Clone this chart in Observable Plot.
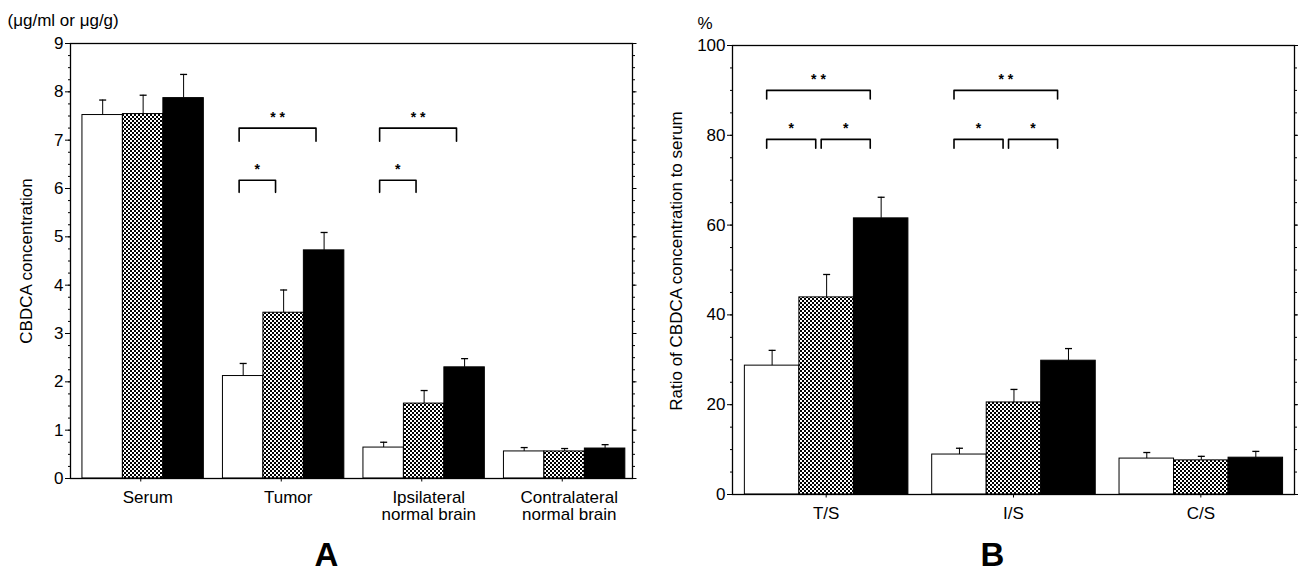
<!DOCTYPE html>
<html><head><meta charset="utf-8">
<script src="https://cdn.jsdelivr.net/npm/d3@7"></script>
<script src="https://cdn.jsdelivr.net/npm/@observablehq/plot@0.6"></script>
<style>
html,body{margin:0;padding:0;background:#fff;}
#wrap{position:relative;width:1298px;height:574px;overflow:hidden;background:#fff;}
#a{position:absolute;left:0;top:0;}
#b{position:absolute;left:650px;top:0;}
</style></head><body>
<svg width="0" height="0" style="position:absolute">
<defs><pattern id="checker" width="4" height="4" patternUnits="userSpaceOnUse">
<rect width="4" height="4" fill="#fff"/><rect width="2" height="2" fill="#000"/><rect x="2" y="2" width="2" height="2" fill="#000"/></pattern></defs></svg>
<div id="wrap"><div id="a"></div><div id="b"></div></div>
<script>
// ---------- data ----------
const series = ["Series 1", "Series 2", "Series 3"];

// Panel A: CBDCA concentration (µg/ml or µg/g)
const groupsA = ["Serum", "Tumor", "Ipsilateral\nnormal brain", "Contralateral\nnormal brain"];
const meanA1 = [7.52, 2.12, 0.64, 0.56];
const meanA2 = [7.54, 3.43, 1.55, 0.56];
const meanA3 = [7.87, 4.72, 2.30, 0.62];
const errA1  = [7.83, 2.38, 0.75, 0.64];
const errA2  = [7.93, 3.90, 1.82, 0.62];
const errA3  = [8.36, 5.09, 2.48, 0.70];
const ticksA = [0, 1, 2, 3, 4, 5, 6, 7, 8, 9];
const sigA = [
  {group: "Tumor", from: 0, to: 2, mark: "**"},
  {group: "Tumor", from: 0, to: 1, mark: "*"},
  {group: "Ipsilateral\nnormal brain", from: 0, to: 2, mark: "**"},
  {group: "Ipsilateral\nnormal brain", from: 0, to: 1, mark: "*"}
];

// Panel B: ratio to serum (%)
const groupsB = ["T/S", "I/S", "C/S"];
const meanB1 = [28.7, 8.9, 8.0];
const meanB2 = [43.9, 20.5, 7.6];
const meanB3 = [61.5, 29.8, 8.2];
const errB1  = [32.1, 10.3, 9.35];
const errB2  = [49.0, 23.4, 8.5];
const errB3  = [66.2, 32.5, 9.6];
const ticksB = [0, 20, 40, 60, 80, 100];
const sigB = [
  {group: "T/S", from: 0, to: 2, mark: "**"},
  {group: "T/S", from: 0, to: 1, mark: "*"},
  {group: "T/S", from: 1, to: 2, mark: "*"},
  {group: "I/S", from: 0, to: 2, mark: "**"},
  {group: "I/S", from: 0, to: 1, mark: "*"},
  {group: "I/S", from: 1, to: 2, mark: "*"}
];

// ---------- helpers ----------
const FONT = "'Liberation Sans', Arial, Helvetica, sans-serif";
const sym = (fn) => ({draw(ctx, size) { const r = Math.sqrt(size / Math.PI); fn(ctx, r); }});
const hLine = sym((c, r) => { c.moveTo(-r, 0); c.lineTo(r, 0); });
const leftTick = sym((c, r) => { c.moveTo(0, 0); c.lineTo(-r, 0); });
const rightTick = sym((c, r) => { c.moveTo(0, 0); c.lineTo(r, 0); });
const downTick = sym((c, r) => { c.moveTo(0, 0); c.lineTo(0, r); });

function buildRows(groups, means, errs, pad, bw) {
  const rows = [];
  groups.forEach((g, gi) => series.forEach((s, si) => {
    const x1 = gi + pad + si * bw;
    rows.push({group: g, series: s, value: means[si][gi], err: errs[si][gi], x1, x2: x1 + bw, xc: x1 + bw / 2});
  }));
  return rows;
}

function buildBrackets(groups, sig, pad, bw, levels) {
  const pts = [], labels = [];
  sig.forEach((b, k) => {
    const gi = groups.indexOf(b.group);
    const xl = gi + pad + b.from * bw + bw / 2 - 0.1 * bw;
    const xr = gi + pad + b.to * bw + bw / 2 - 0.2 * bw;
    const L = levels[b.mark];
    pts.push({id: k, x: xl, y: L.foot}, {id: k, x: xl, y: L.top}, {id: k, x: xr, y: L.top}, {id: k, x: xr, y: L.foot});
    labels.push({x: (xl + xr) / 2, y: L.top, text: b.mark === "**" ? "* *" : "*"});
  });
  return {pts, labels};
}

function minorTicks(domain, step) {
  const out = [];
  for (let v = domain[0]; v <= domain[1] + 1e-9; v += step) out.push(+v.toFixed(6));
  return out;
}

function panel(o) {
  const rows = buildRows(o.groups, o.means, o.errs, o.pad, o.bw);
  const br = buildBrackets(o.groups, o.sig, o.pad, o.bw, o.levels);
  const minor = minorTicks(o.yDomain, o.minorStep);
  return Plot.plot({
    width: o.width, height: o.height,
    marginTop: o.m[0], marginRight: o.m[1], marginBottom: o.m[2], marginLeft: o.m[3],
    style: {fontFamily: FONT, fontSize: "17px", color: "black", background: "white", overflow: "visible"},
    x: {domain: [0, o.groups.length], axis: null},
    y: {domain: o.yDomain, ticks: o.ticks, tickSize: 5, tickPadding: 2, label: null, tickFormat: d => String(d)},
    color: {type: "ordinal", domain: series, range: ["white", "url(#checker)", "black"]},
    marks: [
      Plot.rect(rows, {x1: "x1", x2: "x2", y1: 0, y2: "value", fill: "series", stroke: "black", strokeWidth: 1}),
      Plot.ruleX(rows, {x: "xc", y1: "value", y2: "err", stroke: "black", strokeWidth: 1}),
      Plot.dot(rows, {x: "xc", y: "err", symbol: hLine, r: 3.5, stroke: "black", strokeWidth: 1.3, fill: "none"}),
      Plot.frame({stroke: "black", strokeWidth: 1.3}),
      Plot.dot(minor, {y: d => d, frameAnchor: "left", symbol: leftTick, r: 2.5, stroke: "black", strokeWidth: 1, fill: "none"}),
      Plot.dot(minor, {y: d => d, frameAnchor: "right", symbol: rightTick, r: 2.5, stroke: "black", strokeWidth: 1, fill: "none"}),
      Plot.dot(o.ticks, {y: d => d, frameAnchor: "right", symbol: rightTick, r: 4, stroke: "black", strokeWidth: 1, fill: "none"}),
      Plot.dot(o.groups, {x: (d, i) => i + 0.5, frameAnchor: "bottom", symbol: downTick, r: 3, stroke: "black", strokeWidth: 1, fill: "none"}),
      Plot.text(o.groups, {x: (d, i) => i + 0.5, text: d => d, frameAnchor: "bottom", textAnchor: "middle", lineAnchor: "top", dy: 12, dx: o.labelDx, fontSize: 17}),
      Plot.line(br.pts, {x: "x", y: "y", z: "id", stroke: "black", strokeWidth: 1.6}),
      Plot.text(br.labels, {x: "x", y: "y", text: "text", dy: -11, fontSize: 14, fontWeight: "bold"}),
      Plot.text([o.yTitle], {text: d => d, frameAnchor: "left", textAnchor: "middle", lineAnchor: "middle", rotate: -90, dx: o.titleDx, dy: o.titleDy, fontSize: 17}),
      Plot.text([o.unit], {text: d => d, frameAnchor: "top-left", textAnchor: "start", lineAnchor: "top", dx: o.unitDx, dy: o.unitDy, fontSize: 17}),
      Plot.text([o.letter], {text: d => d, frameAnchor: "bottom", textAnchor: "middle", lineAnchor: "top", dx: o.letterDx, dy: o.letterDy, fontSize: 33, fontWeight: "bold"})
    ]
  });
}

document.getElementById("a").appendChild(panel({
  groups: groupsA, means: [meanA1, meanA2, meanA3], errs: [errA1, errA2, errA3],
  pad: 0.085, bw: 0.288, yDomain: [0, 9], ticks: ticksA, minorStep: 0.25, sig: sigA,
  levels: {"**": {top: 7.25, foot: 6.98}, "*": {top: 6.17, foot: 5.92}},
  width: 650, height: 574, m: [43, 18, 96, 70], labelDx: 7,
  yTitle: "CBDCA concentration", titleDx: -44, titleDy: 0,
  unit: "(\u03bcg/ml or \u03bcg/g)", unitDx: -63, unitDy: -30,
  letter: "A", letterDx: -25, letterDy: 64
}));

document.getElementById("b").appendChild(panel({
  groups: groupsB, means: [meanB1, meanB2, meanB3], errs: [errB1, errB2, errB3],
  pad: 0.066, bw: 0.291, yDomain: [0, 100], ticks: ticksB, minorStep: 5, sig: sigB,
  levels: {"**": {top: 90, foot: 88.1}, "*": {top: 79.1, foot: 77.1}},
  width: 648, height: 574, m: [45, 4, 80, 82], labelDx: 0,
  yTitle: "Ratio of CBDCA concentration to serum", titleDx: -56, titleDy: -9,
  unit: "%", unitDx: -35, unitDy: -29,
  letter: "B", letterDx: -21, letterDy: 48
}));
</script>
</body></html>
